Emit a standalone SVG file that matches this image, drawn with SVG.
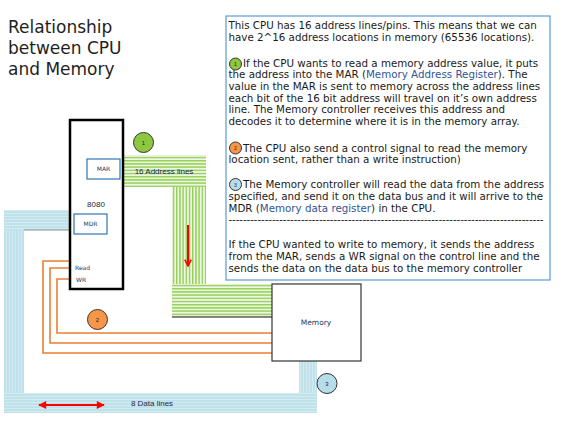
<svg xmlns="http://www.w3.org/2000/svg" width="567" height="434" viewBox="0 0 567 434">
<style>
.title{font-family:"DejaVu Sans","Liberation Sans",sans-serif;font-size:17px;fill:#1e1e1e}
.body{font-family:"DejaVu Sans","Liberation Sans",sans-serif;font-size:10.3px;fill:#1a1a1a}
.hl{fill:#2F5597}
.small{font-family:"DejaVu Sans","Liberation Sans",sans-serif;font-size:6px;fill:#1F3864}
.lbl{font-family:"Liberation Sans","DejaVu Sans",sans-serif;font-size:8px;fill:#1F2A44}
.badge{stroke:#333;stroke-width:1}
.num{font-family:"Liberation Sans",sans-serif;font-size:6px;fill:#222;text-anchor:middle}
.ctl{fill:none;stroke:#ED7D31;stroke-width:1.6}
.reg{fill:#fff;stroke:#2E75B6;stroke-width:1.2}
</style>
<defs>
<pattern id="gH" width="6" height="3.2" patternUnits="userSpaceOnUse">
<rect width="6" height="3.2" fill="#EEF6E6"/>
<rect width="6" height="1.4" fill="#92D050"/>
</pattern>
<pattern id="gV" width="3.2" height="6" patternUnits="userSpaceOnUse">
<rect width="3.2" height="6" fill="#EEF6E6"/>
<rect width="1.4" height="6" fill="#92D050"/>
</pattern>
<pattern id="bH" width="6" height="3" patternUnits="userSpaceOnUse">
<rect width="6" height="3" fill="#BFE1EA"/>
<rect width="6" height="1" fill="#D3EBF1"/>
</pattern>
<pattern id="bV" width="3" height="6" patternUnits="userSpaceOnUse">
<rect width="3" height="6" fill="#BFE1EA"/>
<rect width="1" height="6" fill="#D3EBF1"/>
</pattern>
<marker id="openHead" viewBox="0 0 10 10" refX="9" refY="5" markerWidth="4" markerHeight="4" orient="auto">
<path d="M1,1 L9,5 L1,9" fill="none" stroke="#FF0000" stroke-width="2"/>
</marker>
<marker id="solidHead" viewBox="0 0 10 10" refX="9" refY="5" markerWidth="5" markerHeight="4" orient="auto-start-reverse">
<path d="M0,0 L10,5 L0,10 Z" fill="#FF0000"/>
</marker>
</defs>

<rect width="567" height="434" fill="#fff"/>

<g id="title">
<text class="title" x="8" y="33">Relationship</text>
<text class="title" x="8" y="54">between CPU</text>
<text class="title" x="8" y="75">and Memory</text>
</g>

<g id="connectors">
<!-- address bus -->
<rect x="122" y="155" width="84" height="32" fill="url(#gH)"/>
<rect x="172" y="187" width="34" height="97" fill="url(#gV)"/>
<rect x="172" y="284" width="100" height="33" fill="url(#gH)"/>
<line x1="172" y1="317" x2="272" y2="317" stroke="#111" stroke-width="1"/>
<!-- data bus -->
<rect x="4" y="210" width="66" height="20" fill="url(#bH)"/>
<rect x="4" y="230" width="20" height="163" fill="url(#bV)"/>
<rect x="4" y="393" width="313" height="20" fill="url(#bH)"/>
<rect x="299" y="361" width="18" height="32" fill="url(#bV)"/>
<line x1="24" y1="230" x2="70" y2="230" stroke="#6b7b80" stroke-width="0.8"/>
<!-- control lines -->
<polyline class="ctl" points="70,261 43,261 43,353 272,353"/>
<polyline class="ctl" points="70,268 50,268 50,343 272,343"/>
<polyline class="ctl" points="70,279 57,279 57,333 272,333"/>
<!-- arrows -->
<line x1="188" y1="225" x2="188" y2="266" stroke="#FF0000" stroke-width="2" marker-end="url(#openHead)"/>
<line x1="39" y1="405" x2="104" y2="405" stroke="#FF0000" stroke-width="2" marker-start="url(#solidHead)" marker-end="url(#solidHead)"/>
<text class="lbl" x="164" y="174" text-anchor="middle">16 Address lines</text>
<text class="lbl" x="152" y="406" text-anchor="middle">8 Data lines</text>
</g>

<g id="cpu">
<rect x="70" y="120" width="53" height="169" fill="#fff" stroke="#000" stroke-width="2.5"/>
<text class="lbl" x="96" y="207" text-anchor="middle">8080</text>
<text class="small" x="75" y="270">Read</text>
<text class="small" x="76" y="282">WR</text>
</g>
<g id="mar">
<rect class="reg" x="87" y="159" width="33" height="20"/>
<text class="small" x="103.5" y="171" text-anchor="middle">MAR</text>
</g>
<g id="mdr">
<rect class="reg" x="74" y="214" width="33" height="20"/>
<text class="small" x="90.5" y="226" text-anchor="middle">MDR</text>
</g>

<g id="memory">
<rect x="272" y="284" width="89" height="77" fill="#fff" stroke="#333" stroke-width="1.2"/>
<text class="small" x="316" y="325" text-anchor="middle" style="font-size:7.5px">Memory</text>
</g>

<g id="badge1">
<circle class="badge" cx="143.5" cy="142.5" r="10" fill="#8DC63F"/>
<text class="num" x="143.5" y="145">1</text>
</g>
<g id="badge2">
<circle class="badge" cx="97.5" cy="319.5" r="10" fill="#F79646"/>
<text class="num" x="97.5" y="322">2</text>
</g>
<g id="badge3">
<circle class="badge" cx="327" cy="383.5" r="10" fill="#B7DDE8"/>
<text class="num" x="327" y="386">3</text>
</g>

<g id="textbox">
<rect x="226" y="16" width="324" height="264" fill="#fff" stroke="#5B9BD5" stroke-width="1.2"/>
<circle class="badge" cx="235.5" cy="64" r="6" fill="#8DC63F"/>
<text class="num" x="235.5" y="66" style="font-size:5px">1</text>
<circle class="badge" cx="235.5" cy="148" r="6" fill="#F79646"/>
<text class="num" x="235.5" y="150" style="font-size:5px">2</text>
<circle class="badge" cx="235.5" cy="184.5" r="6" fill="#B7DDE8"/>
<text class="num" x="235.5" y="186.5" style="font-size:5px">3</text>
<text class="body" x="228.5" y="29">This CPU has 16 address lines/pins. This means that we can</text>
<text class="body" x="228.5" y="40.7">have 2^16 address locations in memory (65536 locations).</text>
<text class="body" x="243" y="66.7">If the CPU wants to read a memory address value, it puts</text>
<text class="body" x="228.5" y="78.3">the address into the MAR (<tspan class="hl">Memory Address Register</tspan>). The</text>
<text class="body" x="228.5" y="90">value in the MAR is sent to memory across the address lines</text>
<text class="body" x="228.5" y="101.7">each bit of the 16 bit address will travel on it’s own address</text>
<text class="body" x="228.5" y="113.3">line. The Memory controller receives this address and</text>
<text class="body" x="228.5" y="125">decodes it to determine where it is in the memory array.</text>
<text class="body" x="243" y="151.7">The CPU also send a control signal to read the memory</text>
<text class="body" x="228.5" y="163.3">location sent, rather than a write instruction)</text>
<text class="body" x="243" y="188.3">The Memory controller will read the data from the address</text>
<text class="body" x="228.5" y="200">specified, and send it on the data bus and it will arrive to the</text>
<text class="body" x="228.5" y="211.7">MDR (<tspan class="hl">Memory data register</tspan>) in the CPU.</text>
<text class="body" x="228.5" y="223.3" textLength="315" lengthAdjust="spacing">---------------------------------------------------------------------------------------</text>
<text class="body" x="228.5" y="248.3">If the CPU wanted to write to memory, it sends the address</text>
<text class="body" x="228.5" y="260">from the MAR, sends a WR signal on the control line and the</text>
<text class="body" x="228.5" y="271.7">sends the data on the data bus to the memory controller</text>
</g>
</svg>
